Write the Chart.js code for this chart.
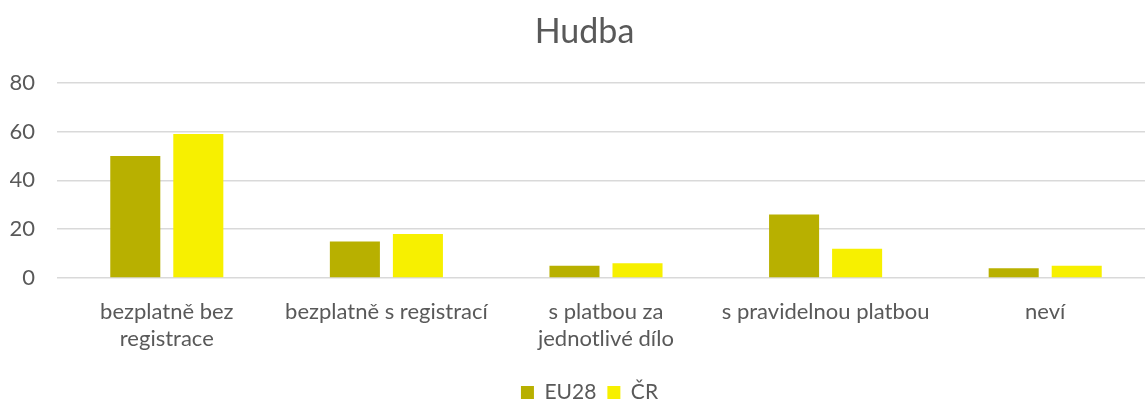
<!DOCTYPE html>
<html>
<head>
<meta charset="utf-8">
<script src="https://cdn.jsdelivr.net/npm/chart.js@4/dist/chart.umd.min.js"></script>
<style>
html,body{margin:0;padding:0;background:#fff;overflow:hidden;}
#wrap{width:1145px;height:401px;position:relative;overflow:hidden;}
</style>
</head>
<body>
<div id="wrap"><canvas id="c" width="1155" height="401"></canvas></div>
<script>
const categories = [["bezplatně bez","registrace"], "bezplatně s registrací", ["s platbou za","jednotlivé dílo"], "s pravidelnou platbou", "neví"];
const seriesNames = ["EU28", "ČR"];
const eu28 = [50, 15, 5, 26, 4];
const cr = [59, 18, 6, 12, 5];
const yTicks = [0, 20, 40, 60, 80];

const FONT = "Lato, 'Open Sans', sans-serif";
const TXT = "#595959";

const shiftBlocks = {
  id: 'shiftBlocks',
  afterLayout(chart) {
    if (chart.legend) { chart.legend.left += 7; chart.legend.right += 7; }
    if (chart.titleBlock) { chart.titleBlock.left += 2; chart.titleBlock.right += 2; }
  }
};

new Chart(document.getElementById('c'), {
  type: 'bar',
  data: {
    labels: categories,
    datasets: [
      { label: seriesNames[0], data: eu28, backgroundColor: '#B8B000', categoryPercentage: 0.574, barPercentage: 0.794 },
      { label: seriesNames[1], data: cr, backgroundColor: '#F7F000', categoryPercentage: 0.574, barPercentage: 0.794 }
    ]
  },
  plugins: [shiftBlocks],
  options: {
    responsive: false,
    animation: false,
    layout: { padding: { left: 10, right: 0, top: 4, bottom: -12 } },
    plugins: {
      title: { display: true, text: 'Hudba', color: TXT, font: { family: FONT, size: 34, weight: 'normal' }, padding: { top: 8, bottom: 30 } },
      legend: { position: 'bottom', labels: { color: TXT, font: { family: FONT, size: 21 }, boxWidth: 13, boxHeight: 13, padding: 11 } },
      tooltip: { enabled: false }
    },
    scales: {
      x: {
        grid: { display: false },
        border: { display: false },
        ticks: { color: TXT, font: { family: FONT, size: 22, lineHeight: 1.2 }, maxRotation: 0, autoSkip: false, padding: 13 },
        afterFit: (axis) => { axis.height = 93; }
      },
      y: {
        min: 0, max: 80,
        afterBuildTicks: (axis) => { axis.ticks = yTicks.map(v => ({ value: v })); },
        grid: { color: '#D9D9D9', lineWidth: 1.5, drawTicks: false },
        border: { display: false },
        ticks: { color: TXT, font: { family: FONT, size: 22 }, padding: 22 },
        afterFit: (axis) => { axis.width = 47; }
      }
    }
  }
});
</script>
</body>
</html>
